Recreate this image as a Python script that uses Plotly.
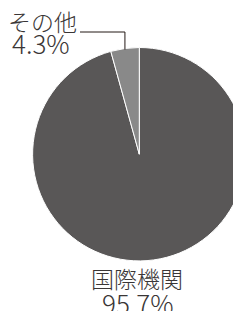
import math
import plotly.graph_objects as go

labels = ["国際機関", "その他"]
values = [95.7, 4.3]
colors = ["#595757", "#898989"]

W, H = 241, 311
OFF = 8  # page body margin
cx, cy, r = 139.3, 154.2, 106.7  # pie centre / radius in page pixels


def X(x):
    return (x - OFF) / W


def Y(y):
    return 1 - (y - OFF) / H


fig = go.Figure(go.Pie(
    labels=labels, values=values, sort=False, direction="clockwise",
    rotation=0, marker=dict(colors=colors, line=dict(color="white", width=1)),
    textinfo="none", hoverinfo="none", showlegend=False,
    domain=dict(x=[X(cx - r), X(cx + r)], y=[Y(cy + r), Y(cy - r)]),
))

jp = dict(family="Noto Sans CJK JP", size=23, color="#3a3636", weight=300)
num = dict(family="Noto Sans CJK JP", size=26, color="#3a3636", weight=300)

# leader line from the midpoint of the small slice
ang = math.radians(values[1] / sum(values) * 360 / 2)
px = cx - r * math.sin(ang)
py = cy - r * math.cos(ang)
fig.add_shape(type="path", xref="paper", yref="paper",
              path=f"M {X(px)} {Y(py + 1)} L {X(px)} {Y(32)} L {X(80)} {Y(32)}",
              line=dict(color="#231815", width=1))

fig.add_annotation(x=X(6), y=Y(21), xref="paper", yref="paper", xanchor="left", yanchor="middle",
                   text=labels[1], showarrow=False, font=jp)
fig.add_annotation(x=X(10), y=Y(43), xref="paper", yref="paper", xanchor="left", yanchor="middle",
                   text=f"{values[1]}%", showarrow=False, font=num)
fig.add_annotation(x=X(137), y=Y(278), xref="paper", yref="paper", xanchor="center", yanchor="middle",
                   text=labels[0], showarrow=False, font=jp)
fig.add_annotation(x=X(138), y=Y(302), xref="paper", yref="paper", xanchor="center", yanchor="middle",
                   text=f"{values[0]}%", showarrow=False, font=num)

fig.update_layout(width=W, height=H, margin=dict(l=0, r=0, t=0, b=0),
                  paper_bgcolor="white", plot_bgcolor="white")
fig.write_html("out.html")
